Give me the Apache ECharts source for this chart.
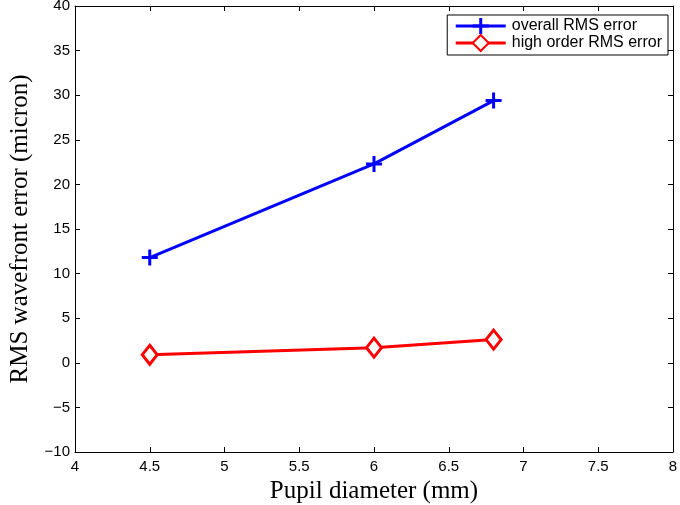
<!DOCTYPE html>
<html><head><meta charset="utf-8">
<script src="https://cdn.jsdelivr.net/npm/echarts@6/dist/echarts.min.js"></script>
<style>html,body{margin:0;padding:0;background:#fff}#c{width:680px;height:505px}</style>
</head><body><div id="c"></div>
<script>
var pupilDiameter = [4.5, 6.0, 6.8];
var overallRMS = [11.8, 22.3, 29.4];
var highOrderRMS = [0.9, 1.7, 2.6];
var seriesNames = ['overall RMS error', 'high order RMS error'];

var chart = echarts.init(document.getElementById('c'), null, {renderer: 'canvas'});
var plusPath = 'path://M0,6.5H16V9.5H0Z M6.5,0H9.5V16H6.5Z';
var tickFont = {fontFamily: 'Liberation Sans, Arial, sans-serif', fontSize: 15, color: '#000'};
var labelFont = {fontFamily: 'Liberation Serif, Times New Roman, serif', fontSize: 25, color: '#000'};
function axisCommon() {
  return {
    axisLine: {show: true, onZero: false, lineStyle: {color: '#000', width: 1}},
    axisTick: {show: true, inside: true, length: 5, lineStyle: {color: '#000'}},
    splitLine: {show: false}
  };
}
var option = {
  animation: false,
  grid: {left: 75, right: 7, top: 6, bottom: 53, containLabel: false, outerBoundsMode: 'none'},
  legend: {
    orient: 'vertical', right: 12, top: 15,
    itemWidth: 50, itemHeight: 20, itemGap: 0,
    padding: [3, 6, 3, 7],
    borderColor: '#000', borderWidth: 1, backgroundColor: '#fff',
    lineStyle: {width: 3},
    textStyle: {fontFamily: 'Liberation Sans, Arial, sans-serif', fontSize: 16, color: '#000', padding: [0, 0, 0, 1]},
    data: seriesNames
  },
  xAxis: [
    Object.assign({type: 'value', min: 4, max: 8, interval: 0.5, position: 'bottom',
      axisLabel: Object.assign({margin: 7}, tickFont),
      name: 'Pupil diameter (mm)', nameLocation: 'middle', nameGap: 27,
      nameTextStyle: labelFont
    }, axisCommon()),
    Object.assign({type: 'value', min: 4, max: 8, interval: 0.5, position: 'top',
      axisLabel: {show: false}}, axisCommon())
  ],
  yAxis: [
    Object.assign({type: 'value', min: -10, max: 40, interval: 5, position: 'left',
      axisLabel: Object.assign({margin: 5, formatter: function(v){return v < 0 ? '\u2212' + (-v) : String(v);}}, tickFont),
      name: 'RMS wavefront error (micron)', nameLocation: 'middle', nameGap: 42, nameRotate: 90,
      nameTextStyle: labelFont
    }, axisCommon()),
    Object.assign({type: 'value', min: -10, max: 40, interval: 5, position: 'right',
      axisLabel: {show: false}}, axisCommon())
  ],
  series: [
    {
      name: seriesNames[0], type: 'line',
      data: pupilDiameter.map(function(x, i){return [x, overallRMS[i]];}),
      lineStyle: {color: '#0000ff', width: 3},
      itemStyle: {color: '#0000ff'},
      symbol: plusPath, symbolSize: 16, showAllSymbol: true, z: 3
    },
    {
      name: seriesNames[1], type: 'line',
      data: pupilDiameter.map(function(x, i){return [x, highOrderRMS[i]];}),
      lineStyle: {color: '#ff0000', width: 3},
      itemStyle: {color: '#ffffff', borderColor: '#ff0000', borderWidth: 3},
      symbol: 'diamond', symbolSize: [15, 19], showAllSymbol: true, z: 3
    }
  ]
};
chart.setOption(option);
</script></body></html>
